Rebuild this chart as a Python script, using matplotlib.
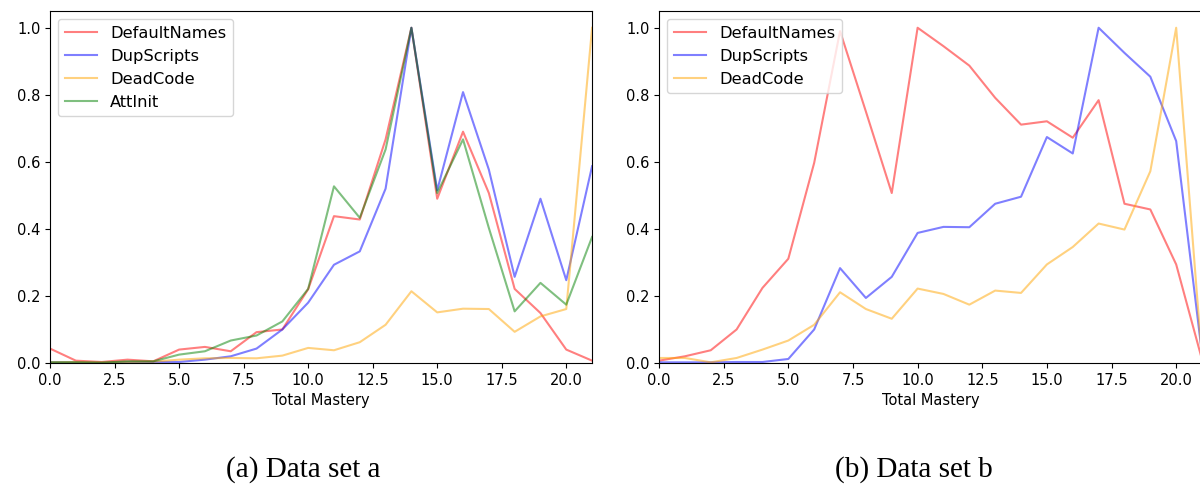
import numpy as np
import matplotlib.pyplot as plt

mastery = np.arange(22)

# data set a
a_default_names = [0.043, 0.007, 0.003, 0.010, 0.005, 0.040, 0.048, 0.035, 0.092, 0.100, 0.220,
                   0.438, 0.428, 0.667, 1.000, 0.490, 0.690, 0.507, 0.221, 0.149, 0.040, 0.007]
a_dup_scripts = [0.002, 0.002, 0.001, 0.003, 0.003, 0.003, 0.010, 0.020, 0.043, 0.100, 0.180,
                 0.293, 0.333, 0.520, 1.000, 0.515, 0.808, 0.577, 0.257, 0.490, 0.247, 0.587]
a_dead_code = [0.002, 0.003, 0.002, 0.003, 0.004, 0.010, 0.014, 0.015, 0.014, 0.022, 0.045,
               0.038, 0.062, 0.114, 0.214, 0.151, 0.162, 0.161, 0.093, 0.139, 0.161, 1.000]
a_att_init = [0.002, 0.002, 0.001, 0.005, 0.005, 0.025, 0.035, 0.067, 0.082, 0.124, 0.221,
              0.527, 0.433, 0.637, 1.000, 0.507, 0.667, 0.403, 0.154, 0.239, 0.174, 0.376]

# data set b
b_default_names = [0.007, 0.020, 0.038, 0.100, 0.224, 0.311, 0.597, 0.990, 0.750, 0.507, 1.000,
                   0.945, 0.887, 0.791, 0.711, 0.721, 0.672, 0.784, 0.475, 0.458, 0.294, 0.010]
b_dup_scripts = [0.002, 0.002, 0.002, 0.003, 0.003, 0.012, 0.100, 0.283, 0.194, 0.257, 0.388,
                 0.406, 0.405, 0.475, 0.496, 0.674, 0.625, 1.000, 0.925, 0.854, 0.662, 0.026]
b_dead_code = [0.015, 0.015, 0.002, 0.015, 0.040, 0.067, 0.114, 0.211, 0.161, 0.132, 0.222,
               0.206, 0.174, 0.216, 0.209, 0.294, 0.346, 0.416, 0.398, 0.572, 1.000, 0.010]

plt.rcParams["font.size"] = 10.5

fig = plt.figure(figsize=(12, 4.84), dpi=100)
ax_a = fig.add_axes([0.0417, 0.25, 0.4517, 0.7273])
ax_b = fig.add_axes([0.5492, 0.25, 0.4525, 0.7273])


def draw(ax, series):
    for values, color, name in series:
        ax.plot(mastery, values, color=color, alpha=0.5, label=name)
    ax.set_xlim(0, 21)
    ax.set_ylim(0, 1.05)
    ax.set_xlabel("Total Mastery")
    ax.legend(loc="upper left", fontsize=11.7)


draw(ax_a, [(a_default_names, "red", "DefaultNames"),
            (a_dup_scripts, "blue", "DupScripts"),
            (a_dead_code, "orange", "DeadCode"),
            (a_att_init, "green", "AttInit")])
draw(ax_b, [(b_default_names, "red", "DefaultNames"),
            (b_dup_scripts, "blue", "DupScripts"),
            (b_dead_code, "orange", "DeadCode")])

caption_font = dict(family="Liberation Serif", fontsize=21, ha="center", va="center")
fig.text(303 / 1200, 1 - 470 / 484, "(a) Data set a", **caption_font)
fig.text(914 / 1200, 1 - 470 / 484, "(b) Data set b", **caption_font)

fig.savefig("out.png", dpi=100)
